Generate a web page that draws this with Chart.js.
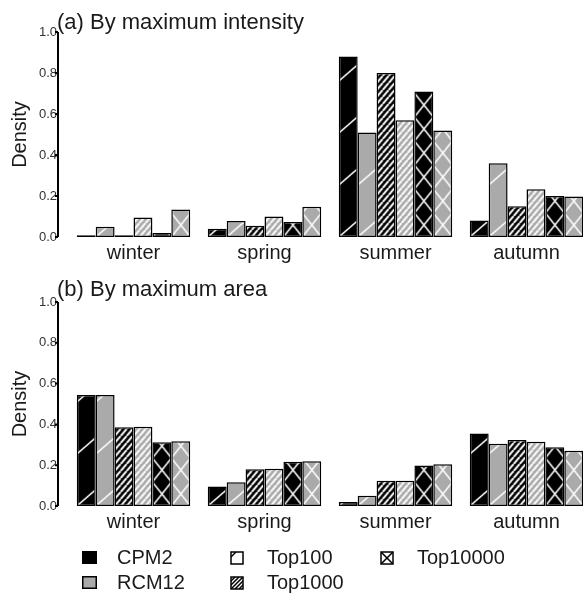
<!DOCTYPE html>
<html>
<head>
<meta charset="utf-8">
<script src="https://cdn.jsdelivr.net/npm/chart.js@4.4.0/dist/chart.umd.min.js"></script>
<style>
  body { margin: 0; background: #fff; width: 583px; height: 593px; overflow: hidden; position: relative; }
  canvas { position: absolute; left: 0; }
  #chartA { top: 0; }
  #chartB { top: 270px; }
</style>
</head>
<body>
<canvas id="chartA" width="600" height="265"></canvas>
<canvas id="chartB" width="600" height="323"></canvas>
<script>
const seasons = ["winter", "spring", "summer", "autumn"];
const yTicks = [0, 0.2, 0.4, 0.6, 0.8, 1.0];
const models = ["CPM2", "RCM12"];
const tops = ["Top100", "Top1000", "Top10000"];

// (a) by maximum intensity
const cpm2Top100Int = [0.008, 0.04, 0.88, 0.08];
const rcm12Top100Int = [0.05, 0.078, 0.51, 0.36];
const cpm2Top1000Int = [0.008, 0.055, 0.80, 0.15];
const rcm12Top1000Int = [0.095, 0.10, 0.57, 0.233];
const cpm2Top10000Int = [0.02, 0.073, 0.71, 0.20];
const rcm12Top10000Int = [0.134, 0.147, 0.52, 0.198];

// (b) by maximum area
const cpm2Top100Area = [0.544, 0.095, 0.02, 0.355];
const rcm12Top100Area = [0.544, 0.116, 0.05, 0.305];
const cpm2Top1000Area = [0.386, 0.18, 0.124, 0.324];
const rcm12Top1000Area = [0.389, 0.183, 0.124, 0.315];
const cpm2Top10000Area = [0.312, 0.217, 0.198, 0.288];
const rcm12Top10000Area = [0.318, 0.219, 0.205, 0.271];

const FONT = "'Liberation Sans', Arial, sans-serif";
const TEXT = "#1a1a1a";
const modelColor = { CPM2: "#000000", RCM12: "#aaaaaa" };
const topKind = { Top100: "sparse", Top1000: "dense", Top10000: "cross" };
const CAT_PCT = 0.866;

Chart.defaults.font.family = FONT;

// pattern tile: white lines on the bar colour
function makeTile(kind, base, barW) {
  const c = document.createElement("canvas");
  let w, h;
  if (kind === "sparse") { w = 60; h = 52; }
  else if (kind === "dense") { w = 6; h = 7; }
  else { w = Math.max(4, Math.round(barW)); h = 24; }
  c.width = w;
  c.height = h;
  const g = c.getContext("2d");
  g.fillStyle = base;
  g.fillRect(0, 0, w, h);
  g.strokeStyle = "#ffffff";
  g.lineWidth = kind === "dense" ? 2 : 1.5;
  g.beginPath();
  if (kind === "cross") {
    g.moveTo(0, 0); g.lineTo(w, h);
    g.moveTo(0, h); g.lineTo(w, 0);
  } else {
    for (let k = -1; k <= 1; k++) {
      g.moveTo(k * w, h);
      g.lineTo((k + 1) * w, 0);
    }
  }
  g.stroke();
  return c;
}

function barFill(base, kind) {
  return function (ctx) {
    if (ctx.type !== "data") return base;
    const chart = ctx.chart;
    const xs = chart.scales.x, ys = chart.scales.y;
    if (!xs || !ys || !xs.width) return base;
    const slot = xs.width / seasons.length;
    const barW = slot * CAT_PCT / 6;
    const left = xs.getPixelForValue(ctx.dataIndex) - slot * CAT_PCT / 2 + ctx.datasetIndex * barW;
    const bottom = ys.getPixelForValue(0);
    if (!isFinite(left) || !isFinite(bottom)) return base;
    const pat = chart.ctx.createPattern(makeTile(kind, base, barW), "repeat");
    pat.setTransform(new DOMMatrix([1, 0, 0, 1, left, bottom]));
    return pat;
  };
}

function buildDatasets(series) {
  const out = [];
  tops.forEach(function (top) {
    models.forEach(function (model) {
      out.push({
        label: model + " " + top,
        data: series[model + top],
        backgroundColor: barFill(modelColor[model], topKind[top]),
        borderColor: "#000000",
        borderWidth: 1.5,
        borderSkipped: false,
        categoryPercentage: CAT_PCT,
        barPercentage: 1.0
      });
    });
  });
  return out;
}

// title, y axis line and (optionally) the legend
const panelDecor = {
  id: "panelDecor",
  afterDraw(chart, args, opts) {
    const g = chart.ctx;
    const ys = chart.scales.y;
    g.save();
    g.fillStyle = TEXT;
    g.font = "22px " + FONT;
    g.textAlign = "left";
    g.textBaseline = "alphabetic";
    g.fillText(opts.title, 57, opts.titleY);

    g.strokeStyle = "#000000";
    g.lineWidth = 2;
    g.beginPath();
    g.moveTo(58, ys.getPixelForValue(1));
    g.lineTo(58, ys.getPixelForValue(0));
    yTicks.forEach(function (v) {
      const py = ys.getPixelForValue(v);
      g.moveTo(55, py);
      g.lineTo(58, py);
    });
    g.stroke();

    if (opts.legend) drawLegend(g, opts.legendY);
    g.restore();
  }
};

function drawLegend(g, y0) {
  const row2 = y0 + 25;
  g.font = "20px " + FONT;
  g.textBaseline = "middle";
  g.textAlign = "left";
  g.lineWidth = 1.5;
  g.strokeStyle = "#000000";

  // colour keys
  g.fillStyle = modelColor.CPM2;
  g.fillRect(82, y0 - 7, 15, 13);
  g.fillStyle = modelColor.RCM12;
  g.fillRect(82, row2 - 7, 15, 13);
  g.strokeRect(82.75, row2 - 6.25, 13.5, 11.5);
  g.fillStyle = TEXT;
  g.fillText("CPM2", 117, y0);
  g.fillText("RCM12", 117, row2);

  // pattern keys
  const keys = [
    { name: "Top100", x: 231, y: y0 },
    { name: "Top1000", x: 231, y: row2 },
    { name: "Top10000", x: 381, y: y0 }
  ];
  keys.forEach(function (k) {
    const bx = k.x, by = k.y - 6, s = 12;
    g.fillStyle = "#ffffff";
    g.fillRect(bx, by, s, s);
    g.save();
    g.beginPath();
    g.rect(bx, by, s, s);
    g.clip();
    g.beginPath();
    if (k.name === "Top100") {
      g.moveTo(bx, by + 5); g.lineTo(bx + 5, by);
    } else if (k.name === "Top1000") {
      for (let d = -8; d <= 12; d += 4) {
        g.moveTo(bx + d, by + s); g.lineTo(bx + d + s, by);
      }
    } else {
      g.moveTo(bx, by); g.lineTo(bx + s, by + s);
      g.moveTo(bx, by + s); g.lineTo(bx + s, by);
    }
    g.stroke();
    g.restore();
    g.strokeRect(bx, by, s, s);
    g.fillStyle = TEXT;
    g.fillText(k.name, k.x + 36, k.y);
  });
}

function makeChart(id, series, decor, padBottom) {
  const ctx = document.getElementById(id).getContext("2d");
  return new Chart(ctx, {
    type: "bar",
    data: { labels: seasons, datasets: buildDatasets(series) },
    plugins: [panelDecor],
    options: {
      responsive: false,
      animation: false,
      events: [],
      layout: { padding: { top: 32, right: 8, bottom: padBottom, left: 0 } },
      plugins: {
        legend: { display: false },
        tooltip: { enabled: false },
        panelDecor: decor
      },
      scales: {
        x: {
          grid: { display: false, drawTicks: false },
          border: { display: false },
          ticks: { color: TEXT, font: { size: 20 }, padding: 4, autoSkip: false, maxRotation: 0 },
          afterFit: function (scale) { scale.height = 28; }
        },
        y: {
          min: 0,
          max: 1,
          grid: { display: false, drawTicks: false },
          border: { display: false },
          afterBuildTicks: function (scale) {
            scale.ticks = yTicks.map(function (v) { return { value: v }; });
          },
          ticks: {
            color: "#333333",
            font: { size: 13 },
            padding: 11,
            callback: function (v) { return Number(v).toFixed(1); }
          },
          title: { display: true, text: "Density", color: TEXT, font: { size: 20 }, padding: { top: 8, bottom: 0 } },
          afterFit: function (scale) { scale.width = 68; }
        }
      }
    }
  });
}

makeChart("chartA", {
  CPM2Top100: cpm2Top100Int, RCM12Top100: rcm12Top100Int,
  CPM2Top1000: cpm2Top1000Int, RCM12Top1000: rcm12Top1000Int,
  CPM2Top10000: cpm2Top10000Int, RCM12Top10000: rcm12Top10000Int
}, { title: "(a) By maximum intensity", titleY: 29, legend: false }, 0);

makeChart("chartB", {
  CPM2Top100: cpm2Top100Area, RCM12Top100: rcm12Top100Area,
  CPM2Top1000: cpm2Top1000Area, RCM12Top1000: rcm12Top1000Area,
  CPM2Top10000: cpm2Top10000Area, RCM12Top10000: rcm12Top10000Area
}, { title: "(b) By maximum area", titleY: 26, legend: true, legendY: 288 }, 59);
</script>
</body>
</html>
